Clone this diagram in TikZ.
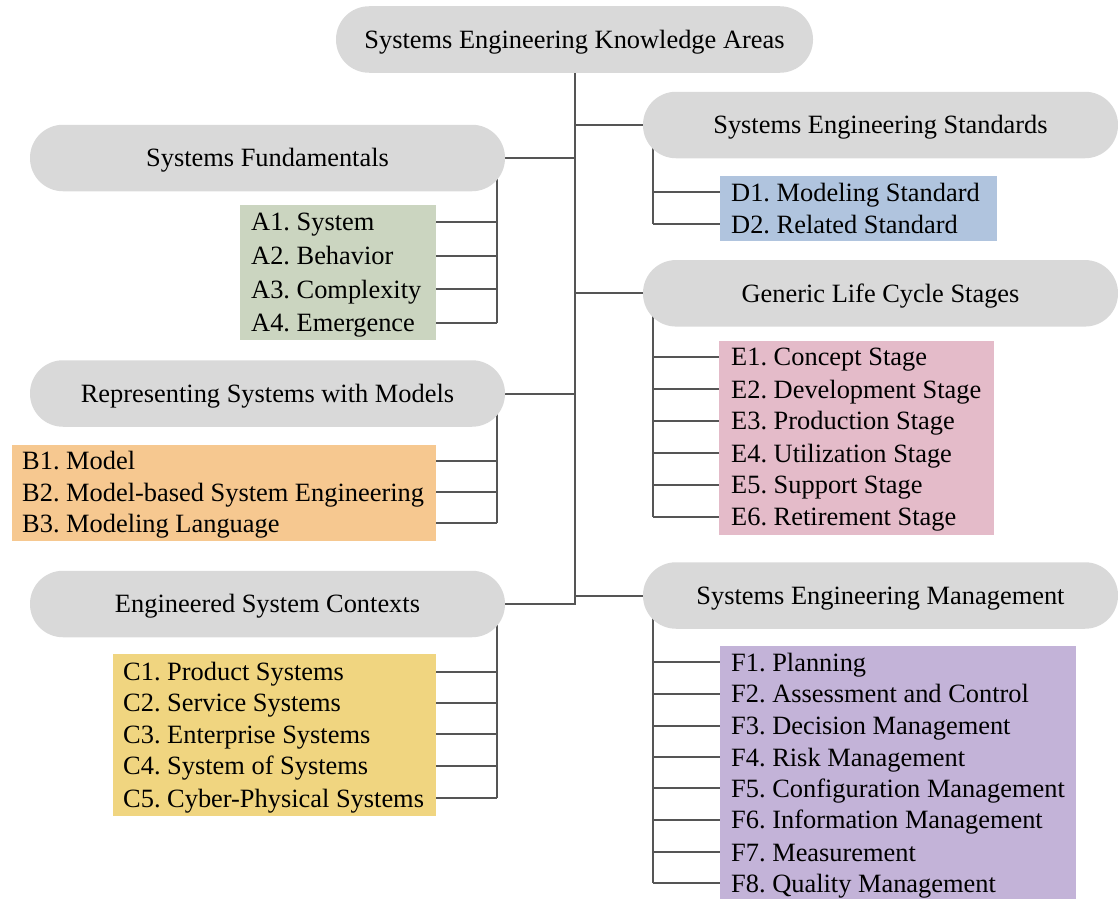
\documentclass[tikz,border=0pt]{standalone}
\usepackage{fontspec}
\setmainfont{Liberation Serif}
\usetikzlibrary{backgrounds}
\frenchspacing

\definecolor{pillgray}{HTML}{D9D9D9}
\definecolor{linegray}{HTML}{555555}
\definecolor{boxA}{HTML}{CBD5C0}
\definecolor{boxB}{HTML}{F6C890}
\definecolor{boxC}{HTML}{F0D580}
\definecolor{boxD}{HTML}{B0C4DE}
\definecolor{boxE}{HTML}{E4BBC9}
\definecolor{boxF}{HTML}{C3B3D8}

\tikzset{
  txt/.style={font=\fontsize{26.4}{30}\selectfont\frenchspacing, text height=23.5pt, text depth=6pt},
  pill/.style={txt, rectangle, rounded corners=33pt, fill=pillgray, inner sep=0pt,
               minimum height=66.5pt, minimum width=475pt},
  listbox/.style={rectangle, inner sep=0pt, anchor=north west},
  item/.style={txt, anchor=west, inner sep=0pt},
  conn/.style={draw=linegray, line width=2pt}
}

\begin{document}
\begin{tikzpicture}[x=1pt, y=-1pt]
\useasboundingbox (0,0) rectangle (1118,899);

% knowledge areas
\node[pill, minimum width=477pt] (root) at (574.5,39.5) {Systems Engineering Knowledge Areas};
\node[pill] (sf)   at (267.5,158)   {Systems Fundamentals};
\node[pill] (rsm)  at (267.5,393.5) {Representing Systems with Models};
\node[pill] (esc)  at (267.5,604)   {Engineered System Contexts};
\node[pill] (ses)  at (880.5,125)   {Systems Engineering Standards};
\node[pill] (glcs) at (880.5,293.3) {Generic Life Cycle Stages};
\node[pill] (sem)  at (880.5,595.5) {Systems Engineering Management};

% coloured topic boxes
\node[listbox, fill=boxA, minimum width=195.5pt, minimum height=135pt]   (bA) at (240,205) {};
\node[listbox, fill=boxB, minimum width=423.5pt, minimum height=96.4pt]  (bB) at (12,444.3) {};
\node[listbox, fill=boxC, minimum width=322.5pt, minimum height=161.7pt] (bC) at (113,654) {};
\node[listbox, fill=boxD, minimum width=277pt,   minimum height=64.7pt]  (bD) at (720,176) {};
\node[listbox, fill=boxE, minimum width=275pt,   minimum height=193.3pt] (bE) at (719,341) {};
\node[listbox, fill=boxF, minimum width=356pt,   minimum height=253pt]   (bF) at (720,646) {};

% topic entries
\foreach \n/\y/\t in {1/221.7/{A1. System}, 2/256/{A2. Behavior},
                      3/289.3/{A3. Complexity}, 4/322.7/{A4. Emergence}}
  \node[item] (a\n) at (251,\y) {\t};
\foreach \n/\y/\t in {1/460.7/{B1. Model}, 2/492.3/{B2. Model-based System Engineering},
                      3/523.3/{B3. Modeling Language}}
  \node[item] (b\n) at (22,\y) {\t};
\foreach \n/\y/\t in {1/671.7/{C1. Product Systems}, 2/702.7/{C2. Service Systems},
                      3/734.3/{C3. Enterprise Systems}, 4/766/{C4. System of Systems},
                      5/798.3/{C5. Cyber-Physical Systems}}
  \node[item] (c\n) at (123,\y) {\t};
\foreach \n/\y/\t in {1/192.3/{D1. Modeling Standard}, 2/224.3/{D2. Related Standard}}
  \node[item] (d\n) at (731,\y) {\t};
\foreach \n/\y/\t in {1/356.7/{E1. Concept Stage}, 2/389.3/{E2. Development Stage},
                      3/421/{E3. Production Stage}, 4/453.3/{E4. Utilization Stage},
                      5/485/{E5. Support Stage}, 6/516.7/{E6. Retirement Stage}}
  \node[item] (e\n) at (731,\y) {\t};
\foreach \n/\y/\t in {1/662.3/{F1. Planning}, 2/694/{F2. Assessment and Control},
                      3/725.7/{F3. Decision Management}, 4/757.3/{F4. Risk Management},
                      5/788.3/{F5. Configuration Management}, 6/820/{F6. Information Management},
                      7/852.3/{F7. Measurement}, 8/883.3/{F8. Quality Management}}
  \node[item] (f\n) at (731,\y) {\t};

% bus lines of each group
\coordinate (busA) at (497,158);
\coordinate (busB) at (497,393.5);
\coordinate (busC) at (497,604);
\coordinate (busD) at (653,125);
\coordinate (busE) at (653,293.3);
\coordinate (busF) at (653,595.5);

\begin{scope}[on background layer]
  % main trunk and branches
  \draw[conn] (root.center) |- (esc.center);
  \draw[conn] (root |- sf) -- (sf.center);
  \draw[conn] (root |- rsm) -- (rsm.center);
  \draw[conn] (root |- ses) -- (ses.center);
  \draw[conn] (root |- glcs) -- (glcs.center);
  \draw[conn] (root |- sem) -- (sem.center);
  % group buses
  \draw[conn] (busA) -- (busA |- a4);
  \draw[conn] (busB) -- (busB |- b3);
  \draw[conn] (busC) -- (busC |- c5);
  \draw[conn] (busD) -- (busD |- d2);
  \draw[conn] (busE) -- (busE |- e6);
  \draw[conn] (busF) -- (busF |- f8);
  % stubs to entries
  \foreach \n in {1,...,4} \draw[conn] (busA |- a\n) -- (bA.east |- a\n);
  \foreach \n in {1,...,3} \draw[conn] (busB |- b\n) -- (bB.east |- b\n);
  \foreach \n in {1,...,5} \draw[conn] (busC |- c\n) -- (bC.east |- c\n);
  \foreach \n in {1,2}     \draw[conn] (busD |- d\n) -- (bD.west |- d\n);
  \foreach \n in {1,...,6} \draw[conn] (busE |- e\n) -- (bE.west |- e\n);
  \foreach \n in {1,...,8} \draw[conn] (busF |- f\n) -- (bF.west |- f\n);
\end{scope}
\end{tikzpicture}
\end{document}
